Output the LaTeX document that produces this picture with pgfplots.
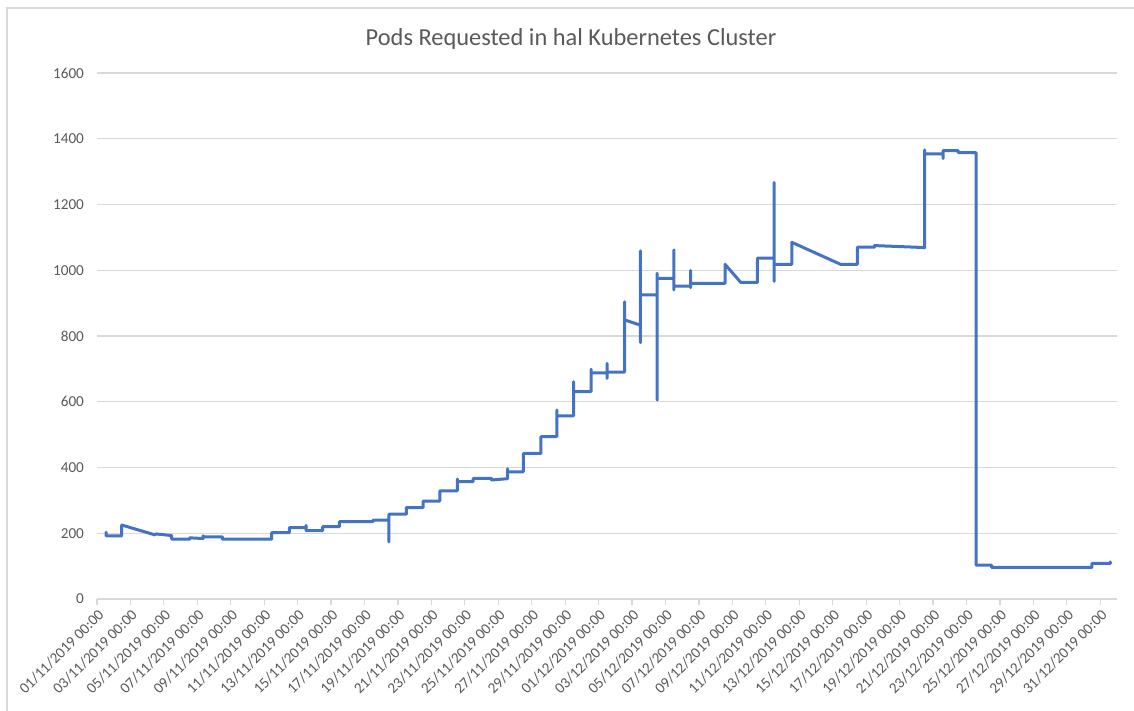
\documentclass[border=0pt]{standalone}
\usepackage{fontspec}
\setmainfont{Carlito}
\usepackage{pgfplots}
\pgfplotsset{compat=1.18}
\definecolor{xlblue}{HTML}{4472C4}
\definecolor{xlgrid}{HTML}{D9D9D9}
\definecolor{xltext}{HTML}{595959}
\begin{document}
\begin{tikzpicture}
\begin{axis}[
  name=ax, at={(0,0)}, anchor=south west,
  scale only axis, width=510pt, height=263pt,
  xmin=0, xmax=61, ymin=0, ymax=1600,
  ytick={0,200,...,1600},
  xtick={0,2,...,60},
  xticklabels={01/11/2019 00:00,03/11/2019 00:00,05/11/2019 00:00,07/11/2019 00:00,09/11/2019 00:00,11/11/2019 00:00,13/11/2019 00:00,15/11/2019 00:00,17/11/2019 00:00,19/11/2019 00:00,21/11/2019 00:00,23/11/2019 00:00,25/11/2019 00:00,27/11/2019 00:00,29/11/2019 00:00,01/12/2019 00:00,03/12/2019 00:00,05/12/2019 00:00,07/12/2019 00:00,09/12/2019 00:00,11/12/2019 00:00,13/12/2019 00:00,15/12/2019 00:00,17/12/2019 00:00,19/12/2019 00:00,21/12/2019 00:00,23/12/2019 00:00,25/12/2019 00:00,27/12/2019 00:00,29/12/2019 00:00,31/12/2019 00:00},
  axis x line*=bottom, axis y line*=left,
  x axis line style={-, draw=xlgrid, line width=0.6pt},
  y axis line style={draw=none},
  ymajorgrids, grid style={xlgrid, line width=0.6pt},
  tick align=outside,
  x tick style={xlgrid, line width=0.6pt}, major tick length=3pt,
  y tick style={draw=none},
  /pgf/number format/assume math mode=true,
  /pgf/number format/1000 sep={},
  ticklabel style={font=\fontsize{7.6}{9}\selectfont, text=xltext},
  xticklabel style={rotate=45, anchor=north east, inner sep=1pt},
  yticklabel style={xshift=0pt},
  clip=false,
]
\addplot[xlblue, line width=1.5pt, line join=round, line cap=round, mark=none] coordinates {
(0.54,203)(0.54,192)(1.48,192)(1.48,225)(3.47,195)(3.5,198)(4.47,193)(4.47,182)(5.56,182)(5.56,186)(6.34,184)(6.34,192)(6.4,189)(7.5,189)(7.5,182)(10.45,182)(10.45,202)(11.5,202)(11.5,217)(12.5,217)(12.5,224)(12.5,208)(13.5,208)(13.5,220)(14.5,220)(14.5,235)(16.5,235)(16.5,240)(17.46,240)(17.46,174)(17.46,258)(18.5,258)(18.5,278)(19.5,278)(19.5,298)(20.5,298)(20.5,329)(21.55,329)(21.55,365)(21.55,357)(22.5,357)(22.5,367)(23.6,367)(23.6,362)(24.56,366)(24.56,396)(24.56,387)(25.5,387)(25.5,443)(26.55,443)(26.55,494)(27.5,494)(27.5,575)(27.5,557)(28.5,557)(28.5,661)(28.5,631)(29.55,631)(29.55,699)(29.55,688)(30.5,688)(30.5,717)(30.5,671)(30.5,690)(31.55,690)(31.55,904)(31.55,849)(32.5,833)(32.5,1059)(32.5,780)(32.5,925)(33.5,925)(33.5,605)(33.5,991)(33.5,975)(34.5,975)(34.5,1062)(34.5,940)(34.5,952)(35.5,952)(35.5,999)(35.5,947)(35.5,960)(37.56,960)(37.56,1018)(38.5,963)(39.5,963)(39.5,1037)(40.5,1037)(40.5,1267)(40.5,966)(40.5,1018)(41.55,1018)(41.55,1085)(44.47,1018)(45.47,1018)(45.47,1070)(46.5,1070)(46.5,1075)(49.5,1069)(49.5,1366)(49.5,1354)(50.6,1354)(50.6,1340)(50.6,1364)(51.5,1364)(51.5,1358)(52.57,1358)(52.57,103)(53.5,103)(53.5,96)(59.5,96)(59.5,108)(60.6,108)(60.6,113)
};
\end{axis}
\node[font=\fontsize{12.2}{14}\selectfont, text=xltext] at (237pt,280pt) {Pods Requested in hal Kubernetes Cluster};
\draw[xlgrid, line width=0.6pt] (-45pt,-60pt) -- (-45pt,295.5pt) -- (518.5pt,295.5pt);
\pgfresetboundingbox
\useasboundingbox (-48.5pt,-56pt) rectangle (518.5pt,299.5pt);
\end{tikzpicture}
\end{document}
